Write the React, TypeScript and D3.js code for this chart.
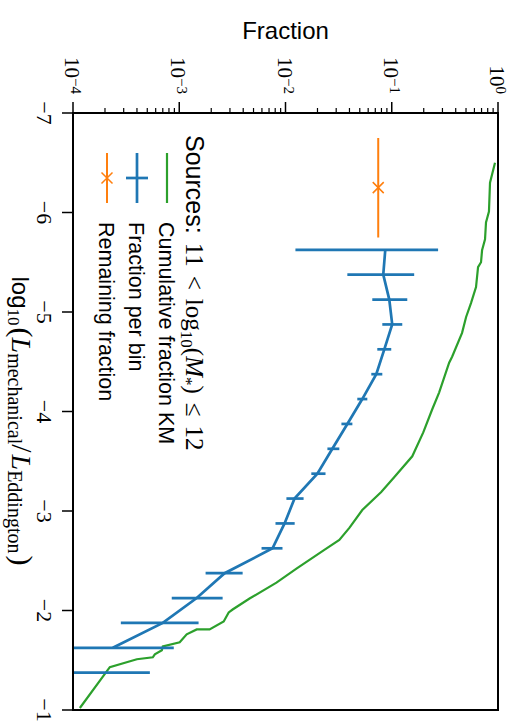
import React from 'react';
import * as d3 from 'd3';

const W = 518;
const H = 721;

// Cumulative fraction (Kaplan-Meier) curve
const kmLog = [-6.5, -6.3, -6.01, -5.9, -5.73, -5.62, -5.5, -5.45, -5.25, -5.09, -4.95, -4.79, -4.55, -4.49, -4.19, -4.02, -3.79, -3.55, -3.34, -3.19, -3.01, -2.83, -2.71, -2.61, -2.42, -2.28, -2.12, -2.01, -1.98, -1.89, -1.81, -1.81, -1.76, -1.68, -1.64, -1.6, -1.56, -1.53, -1.51, -1.43, -1.02];
const kmFrac = [0.937, 0.841, 0.822, 0.771, 0.755, 0.708, 0.692, 0.649, 0.621, 0.557, 0.501, 0.459, 0.37, 0.347, 0.279, 0.24, 0.198, 0.156, 0.1054, 0.0796, 0.0528, 0.0399, 0.0321, 0.0232, 0.01268, 0.00822, 0.00459, 0.00318, 0.00292, 0.00262, 0.00193, 0.00146, 0.001175, 0.00101, 0.0007, 0.000686, 0.000589, 0.000564, 0.000399, 0.000222, 0.000116];

// Fraction per bin
const binLog = [-5.625, -5.375, -5.125, -4.875, -4.625, -4.375, -4.125, -3.875, -3.625, -3.375, -3.125, -2.875, -2.625, -2.375, -2.125, -1.875, -1.625, -1.375];
const binFrac = [0.0869, 0.0832, 0.0948, 0.101, 0.0851, 0.0715, 0.0528, 0.0382, 0.0276, 0.01995, 0.01216, 0.0098, 0.00755, 0.002675, 0.00146, 0.0007, 0.000237, 0];
const binLow = [0.0124, 0.0382, 0.0656, 0.0815, 0.0731, 0.0642, 0.0474, 0.0336, 0.0248, 0.0175, 0.0102, 0.00805, 0.00595, 0.00177, 0.00085, 0.000282, 0.00001, 0];
const binHigh = [0.273, 0.1626, 0.14, 0.1256, 0.0989, 0.0815, 0.0589, 0.0426, 0.0321, 0.0238, 0.0148, 0.0122, 0.00937, 0.00395, 0.00256, 0.00152, 0.000888, 0.000529];

// Remaining fraction
const remLog = [-6.25];
const remFrac = [0.0746];
const remXerr = [0.5];

// Axes
const xTicks = [-7, -6, -5, -4, -3, -2, -1];
const xTickLabels = ['\u22127', '\u22126', '\u22125', '\u22124', '\u22123', '\u22122', '\u22121'];
const yTicks = [1e-4, 1e-3, 1e-2, 1e-1, 1];
const yTickExps = ['\u22124', '\u22123', '\u22122', '\u22121', '0'];

const legendLabels = ['Cumulative fraction KM', 'Fraction per bin', 'Remaining fraction'];

const BLUE = '#1f77b4';
const ORANGE = '#ff7f0e';
const GREEN = '#2ca02c';
const SANS = '"Liberation Sans", Arial, sans-serif';
const SERIF = '"Liberation Serif", "DejaVu Serif", serif';

export default function App() {
  // original (unrotated) plot coordinates: u horizontal, v vertical
  const u0 = 113, u1 = 710, v0 = 20, v1 = 445;
  const x = d3.scaleLinear().domain([-7, -1]).range([u0, u1]);
  const y = d3.scaleLog().domain([1e-4, 1]).range([v1, v0]);

  const km = kmLog.map((l, i) => ({ l, f: kmFrac[i] }));
  const bins = binLog.map((l, i) => ({ l, f: binFrac[i], lo: binLow[i], hi: binHigh[i] }));

  const kmLine = d3.line<{ l: number; f: number }>().x(d => x(d.l)).y(d => y(d.f));
  const binLine = d3
    .line<{ l: number; f: number }>()
    .defined(d => d.f > 0)
    .x(d => x(d.l))
    .y(d => y(d.f));

  const minor: number[] = [];
  for (let e = -4; e < 0; e++) {
    for (let k = 2; k <= 9; k++) minor.push(k * Math.pow(10, e));
  }

  const legRows = [351, 381, 411];
  const hu0 = 153, hu1 = 203, hmid = 178;

  return (
    <svg width={W} height={H} style={{ position: 'absolute', left: 0, top: 0, background: '#fff' }}>
      <rect x={0} y={0} width={W} height={H} fill="#fff" />
      <defs>
        <clipPath id="plotclip">
          <rect x={u0} y={v0} width={u1 - u0} height={v1 - v0} />
        </clipPath>
      </defs>
      <text x={285.5} y={39} textAnchor="middle" fontFamily={SANS} fontSize={24} fill="#000">
        Fraction
      </text>
      <g transform={`translate(${W},0) rotate(90)`}>
        {/* data */}
        <g clipPath="url(#plotclip)">
          <path d={kmLine(km) || ''} fill="none" stroke={GREEN} strokeWidth={2.2} />
          <path d={binLine(bins) || ''} fill="none" stroke={BLUE} strokeWidth={2.7} />
          {bins.map((b, i) => (
            <line
              key={'e' + i}
              x1={x(b.l)}
              x2={x(b.l)}
              y1={y(Math.max(b.lo, 1e-6))}
              y2={y(b.hi)}
              stroke={BLUE}
              strokeWidth={2.7}
            />
          ))}
          {remLog.map((l, i) => (
            <g key={'r' + i}>
              <line
                x1={x(l - remXerr[i])}
                x2={x(l + remXerr[i])}
                y1={y(remFrac[i])}
                y2={y(remFrac[i])}
                stroke={ORANGE}
                strokeWidth={2}
              />
              <path
                d={`M${x(l) - 5.5},${y(remFrac[i]) - 5.5}L${x(l) + 5.5},${y(remFrac[i]) + 5.5}M${x(l) - 5.5},${y(remFrac[i]) + 5.5}L${x(l) + 5.5},${y(remFrac[i]) - 5.5}`}
                stroke={ORANGE}
                strokeWidth={1.5}
                fill="none"
              />
            </g>
          ))}
        </g>

        {/* frame */}
        <rect x={u0} y={v0} width={u1 - u0} height={v1 - v0} fill="none" stroke="#000" strokeWidth={2} />

        {/* x axis (log L) ticks */}
        {xTicks.map((t, i) => (
          <g key={'xt' + i}>
            <line x1={x(t)} x2={x(t)} y1={v1} y2={v1 + 11} stroke="#000" strokeWidth={1.5} />
            <text x={x(t)} y={481} textAnchor="middle" fontFamily={SERIF} fontSize={22} fill="#000">
              {xTickLabels[i]}
            </text>
          </g>
        ))}

        {/* y axis (fraction) ticks */}
        {yTicks.map((t, i) => (
          <g key={'yt' + i}>
            <line x1={u0} x2={u0 - 11} y1={y(t)} y2={y(t)} stroke="#000" strokeWidth={1.5} />
            <text x={94} y={y(t) + 8} textAnchor="end" fontFamily={SERIF} fontSize={21} fill="#000">
              10
              <tspan fontSize={15} dy={-6}>
                {yTickExps[i]}
              </tspan>
            </text>
          </g>
        ))}
        {minor.map((t, i) => (
          <line key={'m' + i} x1={u0} x2={u0 - 5} y1={y(t)} y2={y(t)} stroke="#000" strokeWidth={1.2} />
        ))}

        {/* x axis label */}
        <text x={421} y={506} textAnchor="middle" fill="#000" fontFamily={SERIF}>
          <tspan fontFamily={SANS} fontSize={24}>log</tspan>
          <tspan fontSize={17} dy={4}>10</tspan>
          <tspan fontSize={30} dy={-4} dx={2}>(</tspan>
          <tspan fontSize={28} fontStyle="italic">L</tspan>
          <tspan fontSize={20} dy={4}>mechanical</tspan>
          <tspan fontSize={30} dy={-4}>/</tspan>
          <tspan fontSize={28} fontStyle="italic" dx={2}>L</tspan>
          <tspan fontSize={20} dy={4}>Eddington</tspan>
          <tspan fontSize={30} dy={-4} dx={2}>)</tspan>
        </text>

        {/* legend title */}
        <text x={135} y={332} fill="#000" fontFamily={SERIF} fontSize={25}>
          <tspan fontFamily={SANS}>Sources:</tspan>
          <tspan dx={9}>11</tspan>
          <tspan dx={9}>&lt;</tspan>
          <tspan dx={9}>log</tspan>
          <tspan fontSize={17} dy={5}>10</tspan>
          <tspan dy={-5}>(</tspan>
          <tspan fontStyle="italic">M</tspan>
          <tspan fontSize={17} dy={5}>*</tspan>
          <tspan dy={-5}>)</tspan>
          <tspan dx={9}>≤</tspan>
          <tspan dx={9}>12</tspan>
        </text>

        {/* legend handles */}
        <line x1={hu0} x2={hu1} y1={legRows[0]} y2={legRows[0]} stroke={GREEN} strokeWidth={2.2} />
        <line x1={hu0} x2={hu1} y1={legRows[1]} y2={legRows[1]} stroke={BLUE} strokeWidth={2.7} />
        <line x1={hmid} x2={hmid} y1={legRows[1] - 11} y2={legRows[1] + 11} stroke={BLUE} strokeWidth={2.7} />
        <line x1={hu0} x2={hu1} y1={legRows[2]} y2={legRows[2]} stroke={ORANGE} strokeWidth={2} />
        <path
          d={`M${hmid - 5.5},${legRows[2] - 5.5}L${hmid + 5.5},${legRows[2] + 5.5}M${hmid - 5.5},${legRows[2] + 5.5}L${hmid + 5.5},${legRows[2] - 5.5}`}
          stroke={ORANGE}
          strokeWidth={1.5}
          fill="none"
        />
        {legendLabels.map((s, i) => (
          <text key={'lg' + i} x={222} y={legRows[i] + 8} fontFamily={SANS} fontSize={21.5} fill="#000">
            {s}
          </text>
        ))}
      </g>
    </svg>
  );
}
